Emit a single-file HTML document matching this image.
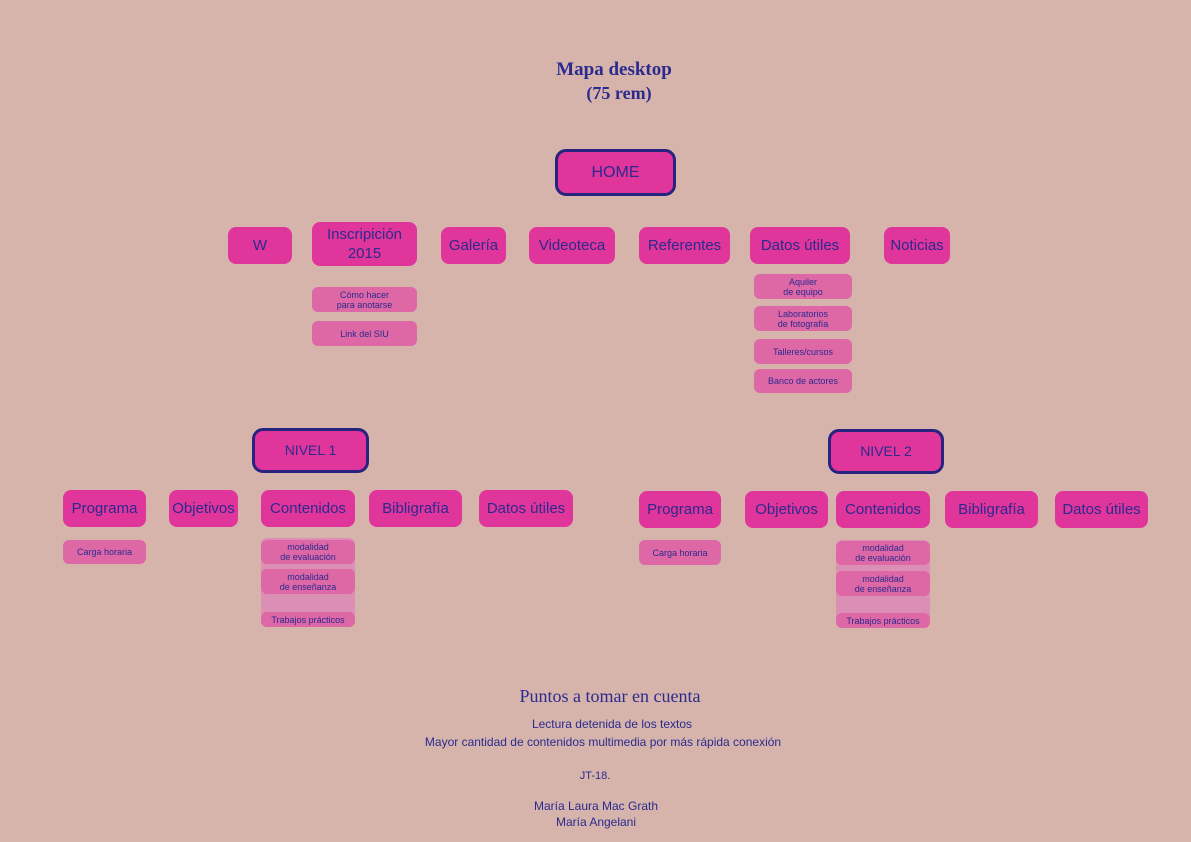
<!DOCTYPE html>
<html><head><meta charset="utf-8"><style>
body{margin:0;width:1191px;height:842px;background:#d6b4ac;position:relative;overflow:hidden;font-family:"Liberation Sans",sans-serif;color:#2b2a8e}
.b{position:absolute;background:#e0359a;border-radius:8px;display:flex;align-items:center;justify-content:center;text-align:center;font-size:15px;line-height:19px;box-sizing:border-box}
.s{position:absolute;background:#de67a6;border-radius:6px;display:flex;align-items:center;justify-content:center;text-align:center;font-size:9px;line-height:10px;box-sizing:border-box}
.h{border:3px solid #27237f;border-radius:11px}
.col{position:absolute;background:#dc8fb4;}
.t{position:absolute;text-align:center;white-space:nowrap;transform:translateX(-50%)}
.serif{font-family:"Liberation Serif",serif}
</style></head><body>
<div class="t serif" style="left:614px;top:59px;font-size:19px;font-weight:bold">Mapa desktop</div>
<div class="t serif" style="left:619px;top:83px;font-size:18px;font-weight:bold">(75 rem)</div>

<div class="b h" style="left:555px;top:149px;width:121px;height:47px;font-size:16px">HOME</div>

<div class="b" style="left:228px;top:227px;width:64px;height:37px">W</div>
<div class="b" style="left:312px;top:222px;width:105px;height:44px">Inscripición<br>2015</div>
<div class="b" style="left:441px;top:227px;width:65px;height:37px">Galería</div>
<div class="b" style="left:529px;top:227px;width:86px;height:37px">Videoteca</div>
<div class="b" style="left:639px;top:227px;width:91px;height:37px">Referentes</div>
<div class="b" style="left:750px;top:227px;width:100px;height:37px">Datos útiles</div>
<div class="b" style="left:884px;top:227px;width:66px;height:37px">Noticias</div>

<div class="s" style="left:312px;top:287px;width:105px;height:25px">Cómo hacer<br>para anotarse</div>
<div class="s" style="left:312px;top:321px;width:105px;height:25px">Link del SIU</div>

<div class="s" style="left:754px;top:274px;width:98px;height:25px">Aquiler<br>de equipo</div>
<div class="s" style="left:754px;top:306px;width:98px;height:25px">Laboratorios<br>de fotografía</div>
<div class="s" style="left:754px;top:339px;width:98px;height:25px">Talleres/cursos</div>
<div class="s" style="left:754px;top:369px;width:98px;height:24px">Banco de actores</div>

<div class="b h" style="left:252px;top:428px;width:117px;height:45px;font-size:14px">NIVEL 1</div>
<div class="b h" style="left:828px;top:429px;width:116px;height:45px;font-size:14px">NIVEL 2</div>

<div class="b" style="left:63px;top:490px;width:83px;height:37px">Programa</div>
<div class="b" style="left:169px;top:490px;width:69px;height:37px">Objetivos</div>
<div class="b" style="left:261px;top:490px;width:94px;height:37px">Contenidos</div>
<div class="b" style="left:369px;top:490px;width:93px;height:37px">Bibligrafía</div>
<div class="b" style="left:479px;top:490px;width:94px;height:37px">Datos útiles</div>
<div class="s" style="left:63px;top:540px;width:83px;height:24px">Carga horaria</div>
<div class="col" style="left:261px;top:538px;width:94px;height:89px;border-radius:6px"></div>
<div class="s" style="left:261px;top:540px;width:94px;height:24px">modalidad<br>de evaluación</div>
<div class="s" style="left:261px;top:569px;width:94px;height:25px">modalidad<br>de enseñanza</div>
<div class="s" style="left:261px;top:612px;width:94px;height:15px">Trabajos prácticos</div>

<div class="b" style="left:639px;top:491px;width:82px;height:37px">Programa</div>
<div class="b" style="left:745px;top:491px;width:83px;height:37px">Objetivos</div>
<div class="b" style="left:836px;top:491px;width:94px;height:37px">Contenidos</div>
<div class="b" style="left:945px;top:491px;width:93px;height:37px">Bibligrafía</div>
<div class="b" style="left:1055px;top:491px;width:93px;height:37px">Datos útiles</div>
<div class="s" style="left:639px;top:540px;width:82px;height:25px">Carga horaria</div>
<div class="col" style="left:836px;top:540px;width:94px;height:88px;border-radius:6px"></div>
<div class="s" style="left:836px;top:541px;width:94px;height:24px">modalidad<br>de evaluación</div>
<div class="s" style="left:836px;top:571px;width:94px;height:25px">modalidad<br>de enseñanza</div>
<div class="s" style="left:836px;top:613px;width:94px;height:15px">Trabajos prácticos</div>

<div class="t serif" style="left:610px;top:686px;font-size:18px">Puntos a tomar en cuenta</div>
<div class="t" style="left:612px;top:717px;font-size:12px">Lectura detenida de los textos</div>
<div class="t" style="left:603px;top:735px;font-size:12px">Mayor cantidad de contenidos multimedia por más rápida conexión</div>
<div class="t" style="left:595px;top:770px;font-size:11px">JT-18.</div>
<div class="t" style="left:596px;top:799px;font-size:12px">María Laura Mac Grath</div>
<div class="t" style="left:596px;top:815px;font-size:12px">María Angelani</div>
</body></html>
